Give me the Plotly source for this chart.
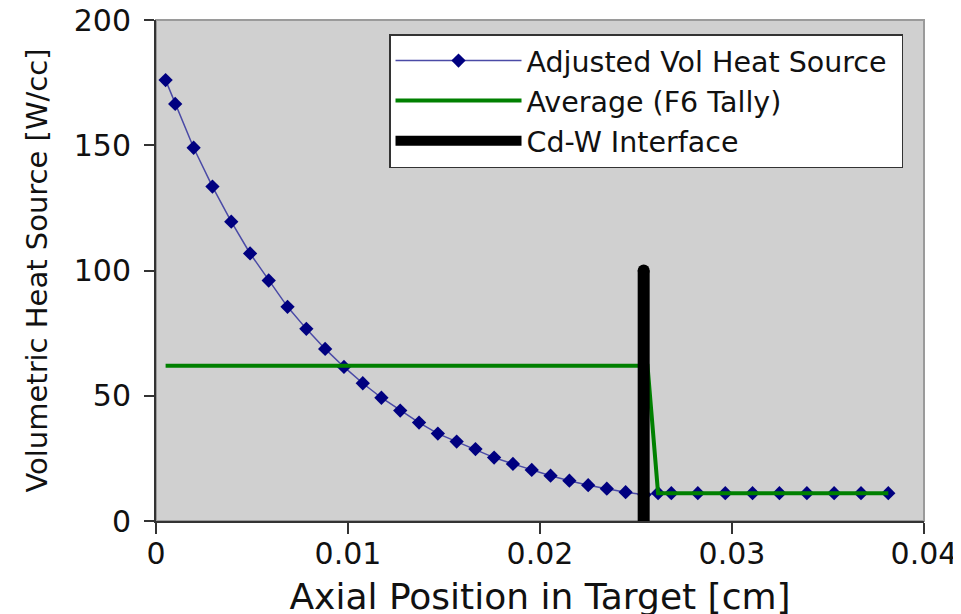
import plotly.graph_objects as go

# ---- data ----
pos_cm = [0.0005, 0.001, 0.00196, 0.00294, 0.00392, 0.0049, 0.00587, 0.00685, 0.00783, 0.00881,
          0.00979, 0.01077, 0.01174, 0.01272, 0.0137, 0.01468, 0.01566, 0.01664, 0.01761, 0.01859,
          0.01957, 0.02055, 0.02153, 0.02251, 0.02348, 0.02446, 0.02544, 0.02615, 0.02684, 0.02822,
          0.02965, 0.03107, 0.03247, 0.0339, 0.03532, 0.03672, 0.03814]
heat_wcc = [176, 166.5, 149, 133.5, 119.5, 106.8, 96, 85.5, 76.7, 68.7,
            61.5, 55, 49.2, 44.1, 39.3, 34.9, 31.7, 28.7, 25.3, 22.8,
            20.4, 18.1, 16.1, 14.3, 12.9, 11.5, 10.5, 11.1, 11.1, 11.1,
            11.1, 11.1, 11.1, 11.1, 11.1, 11.1, 11.1]

avg_x = [0.0005, 0.0256, 0.02615, 0.03814]
avg_y = [62, 62, 11.1, 11.1]

iface_x = [0.0254, 0.0254]
iface_y = [0, 100]

x_ticks = [0, 0.01, 0.02, 0.03, 0.04]
x_ticktext = ["0", "0.01", "0.02", "0.03", "0.04"]
y_ticks = [0, 50, 100, 150, 200]

series_names = ["Adjusted Vol Heat Source\u00a0", "Average (F6 Tally)", "Cd-W Interface"]

FONT = "DejaVu Sans"

fig = go.Figure()

fig.add_trace(go.Scatter(
    x=pos_cm, y=heat_wcc, mode="lines+markers", name=series_names[0],
    line=dict(color="#4a4aa6", width=1.5),
    marker=dict(symbol="diamond", size=11, color="#000080"),
))
fig.add_trace(go.Scatter(
    x=avg_x, y=avg_y, mode="lines", name=series_names[1],
    line=dict(color="#008000", width=4),
))
fig.add_trace(go.Scatter(
    x=iface_x, y=iface_y, mode="lines", name=series_names[2],
    line=dict(color="#000000", width=12),
))
# rounded cap at the top of the interface bar
fig.add_trace(go.Scatter(
    x=iface_x[1:], y=iface_y[1:], mode="markers", showlegend=False, hoverinfo="skip",
    marker=dict(symbol="circle", size=12, color="#000000", line=dict(width=0)),
))

# gray frame on top/right of the plot area
fig.add_shape(type="rect", xref="paper", yref="paper", x0=0, y0=0, x1=1, y1=1,
              line=dict(color="#9a9a9a", width=2), layer="below")

# margins compensate for the page's 8px body margin
fig.update_layout(
    width=961, height=614,
    margin=dict(l=148, r=45, t=12, b=101, autoexpand=False),
    paper_bgcolor="white",
    plot_bgcolor="#d0d0d0",
    font=dict(family=FONT, color="#111111", size=28),
    showlegend=True,
    legend=dict(
        x=0.3034, y=0.972, xanchor="left", yanchor="top",
        bgcolor="white", bordercolor="#333333", borderwidth=1.5,
        font=dict(family=FONT, size=28.5, color="#111111"),
        itemwidth=126, tracegroupgap=0,
    ),
    xaxis=dict(
        range=[0, 0.04], tickvals=x_ticks, ticktext=x_ticktext,
        showgrid=False, zeroline=False, automargin=False,
        showline=True, linecolor="#333333", linewidth=2,
        ticks="outside", ticklen=11, tickwidth=1.5, tickcolor="#333333",
        tickfont=dict(size=30, family=FONT), ticklabelstandoff=-6,
        ticklabeloverflow="allow",
        title=dict(text="Axial Position in Target [cm]", font=dict(size=36, family=FONT), standoff=14),
    ),
    yaxis=dict(
        range=[0, 200], tickvals=y_ticks,
        showgrid=False, zeroline=False, automargin=False,
        showline=True, linecolor="#333333", linewidth=2,
        ticks="outside", ticklen=10, tickwidth=1.5, tickcolor="#333333",
        tickfont=dict(size=30, family=FONT), ticklabelstandoff=7,
        ticklabeloverflow="allow",
        title=dict(text="Volumetric Heat Source [W/cc]", font=dict(size=29, family=FONT), standoff=18),
    ),
)

fig.write_html("out.html")
